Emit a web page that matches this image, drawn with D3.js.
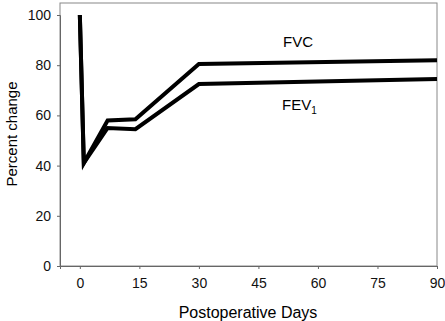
<!DOCTYPE html>
<html><head><meta charset="utf-8">
<script src="https://cdn.jsdelivr.net/npm/d3@7"></script>
<style>body{margin:0;background:#fff}svg{display:block;font-family:Arial,"Liberation Sans",sans-serif}</style>
</head><body>
<script>
const days = [0, 1, 7, 14, 30, 90];
const fvc = [100, 41, 58, 58.5, 80.5, 82];
const fev1 = [100, 41, 55, 54.5, 72.5, 74.5];
const xTicks = [0, 15, 30, 45, 60, 75, 90];
const yTicks = [0, 20, 40, 60, 80, 100];

const W = 445, H = 321;
const svg = d3.select("body").append("svg").attr("width", W).attr("height", H);
const x = d3.scaleLinear().domain([-5, 90]).range([60, 437]);
const y = d3.scaleLinear().domain([0, 100]).range([266, 15]);

// frame
svg.append("rect").attr("x", 60).attr("y", 3).attr("width", 377).attr("height", 263)
  .attr("fill", "none").attr("stroke", "#888").attr("stroke-width", 1);

const xa = svg.append("g").attr("transform", "translate(0,266)")
  .call(d3.axisBottom(x).tickValues(xTicks).tickSize(3).tickPadding(9));
const ya = svg.append("g").attr("transform", "translate(60,0)")
  .call(d3.axisLeft(y).tickValues(yTicks).tickSize(3).tickPadding(6));
[xa, ya].forEach(g => {
  g.select(".domain").attr("stroke", "#666");
  g.selectAll(".tick line").attr("stroke", "#666");
  g.selectAll("text").attr("font-size", 14).attr("fill", "#111").attr("font-family", "Arial, 'Liberation Sans', sans-serif");
});

const line = d3.line().x((d, i) => x(days[i])).y(d => y(d));
[fvc, fev1].forEach(s => {
  svg.append("path").attr("d", line(s)).attr("fill", "none")
    .attr("stroke", "#000").attr("stroke-width", 4).attr("stroke-linejoin", "miter");
});

svg.append("text").attr("x", 283).attr("y", 47).attr("font-size", 15).text("FVC");
const t = svg.append("text").attr("x", 282).attr("y", 110).attr("font-size", 15);
t.append("tspan").text("FEV");
t.append("tspan").attr("font-size", 10).attr("dy", 4).text("1");

svg.append("text").attr("transform", "translate(17,134) rotate(-90)").attr("text-anchor", "middle")
  .attr("font-size", 15).text("Percent change");
svg.append("text").attr("x", 248).attr("y", 318).attr("text-anchor", "middle")
  .attr("font-size", 16).text("Postoperative Days");
</script>
</body></html>
